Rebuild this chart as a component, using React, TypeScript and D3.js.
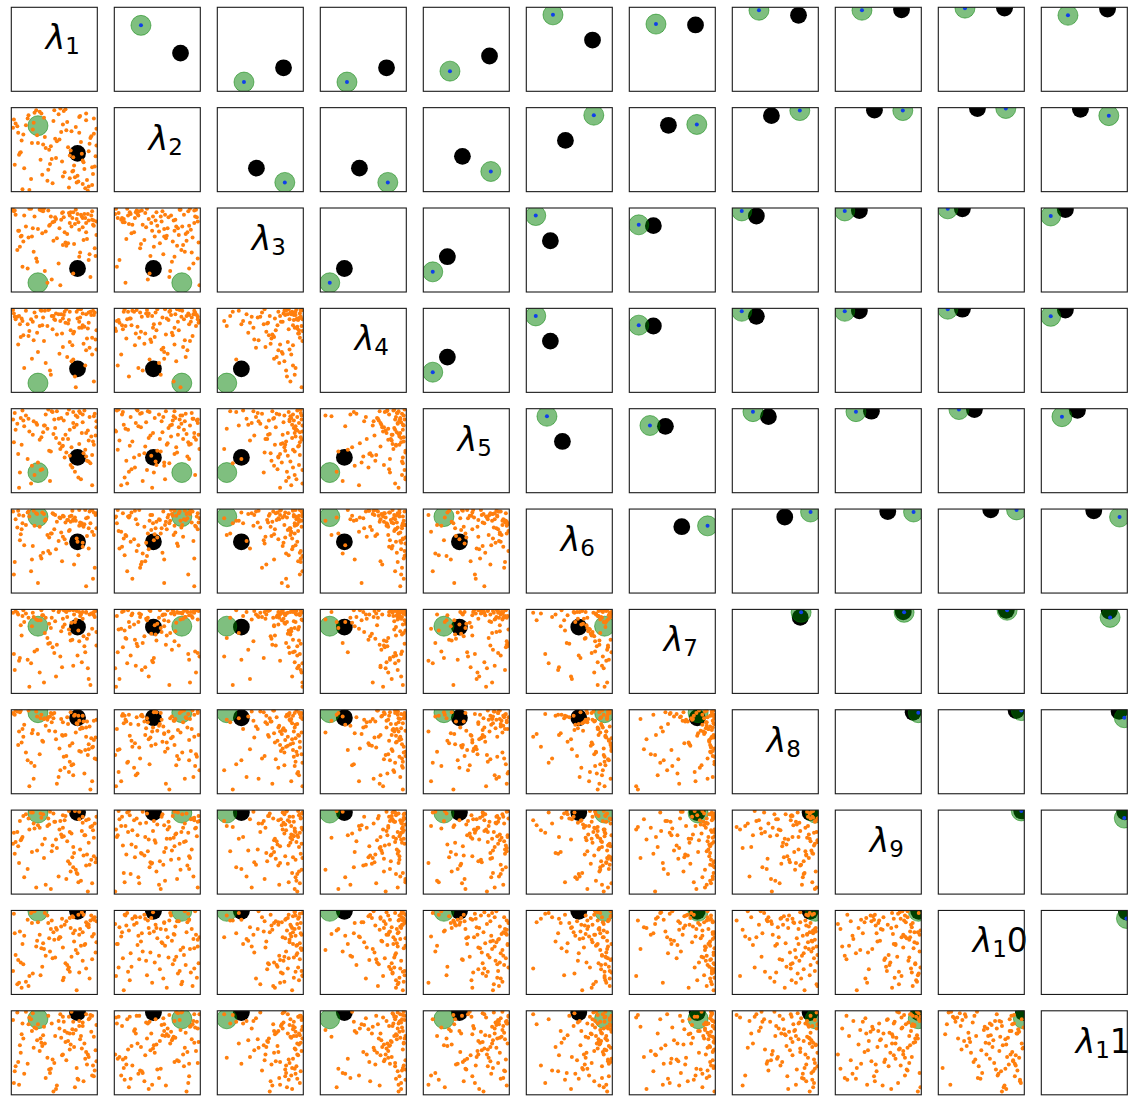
import React from 'react';
import * as d3 from 'd3';

// Diagonal labels: [base, subscript, trailing]
const LABELS: [string, string, string][] = [
  ['λ', '1', ''], ['λ', '2', ''], ['λ', '3', ''], ['λ', '4', ''], ['λ', '5', ''],
  ['λ', '6', ''], ['λ', '7', ''], ['λ', '8', ''], ['λ', '9', ''], ['λ', '1', '0'], ['λ', '1', '1'],
];

// true parameter values (green circles) in axis units
const TRUE_VALUES = [0.31, 0.785, 0.11, 0.11, 0.24, 0.91, 0.80, 0.965, 0.965, 0.99, 0.905];
// estimates (black circles)
const ESTIMATES = [0.77, 0.455, 0.28, 0.28, 0.42, 0.61, 0.79, 0.905, 0.97, 0.99, 0.98];

// posterior samples per parameter
const S1 = [0.05,0.62,0.91,0.33,0.78,0.14,0.47,0.86,0.25,0.69,0.97,0.38,0.12,0.74,0.55,0.82,0.08,0.43,0.66,0.94,0.29,0.59,0.17,0.88,0.51,0.72,0.03,0.36,0.99,0.64,0.21,0.80,0.45,0.93,0.11,0.57,0.76,0.31,0.85,0.49,0.68,0.02,0.90,0.40,0.27,0.73,0.60,0.96,0.19,0.83,0.53,0.35,0.71,0.07,0.89,0.44,0.65,0.23,0.98,0.58,0.79,0.15,0.92,0.48,0.37,0.84,0.61,0.10,0.75,0.95,0.30,0.67,0.87,0.52,0.20,0.81,0.42,0.70,0.04,0.63,0.90,0.26,0.77,0.56,0.34,0.99,0.13,0.46,0.87,0.72,0.60,0.09,0.83,0.39,0.94,0.50,0.24,0.68,0.79,0.96];
const S2 = [0.81,0.23,0.57,0.95,0.12,0.68,0.39,0.04,0.74,0.49,0.30,0.88,0.61,0.17,0.92,0.45,0.70,0.26,0.53,0.08,0.97,0.36,0.79,0.14,0.63,0.41,0.86,0.20,0.55,0.73,0.02,0.90,0.33,0.66,0.47,0.99,0.11,0.58,0.27,0.84,0.43,0.76,0.06,0.52,0.94,0.31,0.18,0.69,0.87,0.37,0.60,0.93,0.24,0.78,0.01,0.50,0.83,0.15,0.42,0.71,0.89,0.28,0.64,0.10,0.56,0.35,0.96,0.46,0.77,0.21,0.67,0.05,0.85,0.40,0.91,0.59,0.13,0.72,0.32,0.98,0.48,0.82,0.19,0.62,0.38,0.75,0.03,0.54,0.93,0.25,0.80,0.44,0.09,0.65,0.29,0.97,0.58,0.16,0.70,0.87];
const S3 = [0.92,0.71,0.45,0.98,0.83,0.60,0.15,0.88,0.76,0.95,0.52,0.99,0.67,0.81,0.34,0.90,0.73,0.97,0.58,0.86,0.40,0.94,0.78,0.63,0.89,0.22,0.96,0.70,0.84,0.55,0.99,0.47,0.80,0.91,0.66,0.08,0.87,0.75,0.93,0.61,0.82,0.98,0.38,0.72,0.90,0.57,0.95,0.85,0.28,0.77,0.64,0.97,0.88,0.50,0.93,0.79,0.69,0.99,0.43,0.86,0.74,0.91,0.18,0.83,0.96,0.62,0.89,0.54,0.98,0.80,0.36,0.94,0.71,0.87,0.65,0.92,0.11,0.78,0.97,0.59,0.85,0.48,0.93,0.76,0.99,0.68,0.30,0.90,0.82,0.95,0.56,0.73,0.88,0.25,0.96,0.84,0.66,0.91,0.42,0.79];
const S4 = [0.87,0.96,0.53,0.79,0.99,0.68,0.91,0.32,0.84,0.74,0.95,0.61,0.88,0.19,0.93,0.77,0.57,0.98,0.82,0.45,0.90,0.70,0.97,0.64,0.86,0.39,0.94,0.80,0.51,0.99,0.73,0.89,0.26,0.92,0.66,0.85,0.96,0.48,0.78,0.91,0.60,0.98,0.83,0.35,0.95,0.72,0.88,0.13,0.81,0.94,0.69,0.97,0.56,0.90,0.76,0.99,0.42,0.87,0.63,0.93,0.84,0.29,0.96,0.75,0.89,0.58,0.92,0.81,0.06,0.97,0.71,0.86,0.50,0.94,0.67,0.99,0.79,0.37,0.90,0.83,0.95,0.62,0.88,0.46,0.98,0.74,0.85,0.21,0.93,0.70,0.54,0.91,0.80,0.97,0.65,0.87,0.40,0.96,0.77,0.92];
const S5 = [0.75,0.42,0.90,0.63,0.18,0.86,0.97,0.51,0.69,0.33,0.94,0.80,0.57,0.25,0.88,0.71,0.46,0.99,0.64,0.09,0.83,0.55,0.92,0.38,0.77,0.96,0.60,0.28,0.85,0.48,0.73,0.95,0.14,0.67,0.89,0.52,0.81,0.36,0.98,0.70,0.44,0.87,0.62,0.93,0.21,0.78,0.56,0.91,0.40,0.84,0.97,0.66,0.30,0.82,0.74,0.50,0.94,0.11,0.68,0.89,0.58,0.79,0.35,0.96,0.72,0.47,0.86,0.24,0.92,0.61,0.81,0.99,0.43,0.65,0.88,0.16,0.76,0.54,0.95,0.69,0.37,0.85,0.90,0.59,0.27,0.78,0.98,0.49,0.71,0.83,0.64,0.06,0.93,0.80,0.45,0.87,0.32,0.75,0.97,0.57];
const S6 = [0.88,0.64,0.97,0.79,0.45,0.92,0.71,0.99,0.56,0.85,0.30,0.94,0.76,0.90,0.62,0.83,0.98,0.50,0.87,0.73,0.95,0.38,0.81,0.68,0.93,0.86,0.22,0.96,0.77,0.59,0.91,0.84,0.47,0.99,0.70,0.89,0.65,0.12,0.82,0.94,0.75,0.97,0.53,0.88,0.80,0.34,0.92,0.69,0.96,0.60,0.85,0.41,0.98,0.78,0.90,0.66,0.87,0.26,0.93,0.72,0.99,0.57,0.83,0.95,0.48,0.79,0.91,0.63,0.86,0.17,0.94,0.74,0.89,0.52,0.97,0.81,0.69,0.92,0.37,0.84,0.77,0.98,0.61,0.90,0.44,0.95,0.83,0.71,0.08,0.88,0.67,0.93,0.55,0.86,0.99,0.76,0.40,0.91,0.80,0.96];
const S7 = [0.98,0.82,0.94,0.25,0.75,0.99,0.90,0.49,0.96,0.63,0.91,0.13,0.69,0.85,0.97,0.37,0.94,0.59,0.99,0.77,0.88,0.31,0.95,0.65,0.86,0.99,0.47,0.93,0.73,0.97,0.08,0.92,0.60,0.95,0.81,0.44,0.98,0.87,0.56,0.99,0.71,0.96,0.17,0.90,0.50,0.94,0.79,0.97,0.40,0.89,0.58,0.99,0.64,0.96,0.30,0.83,0.91,0.36,0.98,0.74,0.97,0.85,0.10,0.55,0.93,0.68,0.99,0.42,0.88,0.95,0.52,0.76,0.97,0.20,0.90,0.94,0.66,0.84,0.28,0.98,0.70,0.91,0.45,0.99,0.87,0.57,0.92,0.78,0.96,0.33,0.89,0.39,0.97,0.72,0.95,0.48,0.80,0.99,0.62,0.93];
const S8 = [0.99,0.31,0.80,0.47,0.93,0.68,0.85,0.52,0.76,0.97,0.42,0.89,0.61,0.94,0.20,0.79,0.58,0.91,0.83,0.15,0.98,0.70,0.49,0.86,0.74,0.35,0.95,0.63,0.88,0.45,0.09,0.77,0.92,0.66,0.99,0.28,0.84,0.71,0.24,0.90,0.57,0.96,0.53,0.81,0.33,0.93,0.69,0.87,0.40,0.78,0.12,0.94,0.60,0.98,0.46,0.75,0.91,0.37,0.67,0.89,0.51,0.82,0.05,0.95,0.62,0.86,0.44,0.97,0.73,0.56,0.92,0.26,0.79,0.65,0.99,0.50,0.88,0.34,0.94,0.70,0.59,0.18,0.83,0.54,0.90,0.41,0.77,0.96,0.68,0.22,0.85,0.74,0.93,0.90,0.55,0.96,0.72,0.38,0.87,0.64];
const S9 = [0.62,0.88,0.35,0.79,0.14,0.93,0.51,0.70,0.97,0.27,0.84,0.43,0.66,0.99,0.21,0.75,0.57,0.90,0.39,0.81,0.08,0.68,0.95,0.47,0.86,0.32,0.73,0.59,0.92,0.18,0.77,0.53,0.98,0.41,0.64,0.87,0.25,0.82,0.70,0.96,0.36,0.60,0.89,0.11,0.78,0.49,0.94,0.67,0.30,0.85,0.55,0.91,0.44,0.74,0.03,0.83,0.63,0.97,0.38,0.71,0.89,0.20,0.80,0.58,0.95,0.46,0.69,0.87,0.29,0.76,0.52,0.99,0.34,0.65,0.90,0.16,0.81,0.72,0.48,0.93,0.61,0.84,0.24,0.77,0.96,0.42,0.68,0.06,0.88,0.56,0.79,0.37,0.92,0.66,0.13,0.86,0.50,0.74,0.98,0.45];
const S10 = [0.47,0.83,0.19,0.71,0.95,0.36,0.88,0.60,0.25,0.79,0.92,0.54,0.08,0.76,0.66,0.98,0.41,0.85,0.30,0.69,0.57,0.90,0.15,0.82,0.44,0.73,0.96,0.33,0.62,0.87,0.22,0.78,0.51,0.94,0.38,0.68,0.05,0.86,0.59,0.74,0.91,0.28,0.80,0.46,0.99,0.63,0.17,0.72,0.89,0.40,0.77,0.55,0.93,0.12,0.84,0.67,0.35,0.97,0.50,0.81,0.26,0.70,0.88,0.43,0.61,0.95,0.20,0.75,0.53,0.90,0.64,0.32,0.86,0.79,0.10,0.58,0.94,0.45,0.73,0.37,0.83,0.99,0.49,0.68,0.23,0.87,0.60,0.78,0.31,0.92,0.56,0.14,0.74,0.97,0.42,0.65,0.85,0.27,0.71,0.89];
const S11 = [0.34,0.76,0.91,0.52,0.18,0.67,0.85,0.43,0.97,0.60,0.29,0.81,0.72,0.09,0.88,0.55,0.39,0.94,0.64,0.23,0.79,0.47,0.99,0.36,0.70,0.87,0.14,0.58,0.83,0.41,0.92,0.66,0.26,0.75,0.50,0.96,0.32,0.84,0.61,0.04,0.73,0.89,0.45,0.20,0.80,0.57,0.93,0.69,0.37,0.86,0.11,0.62,0.78,0.98,0.48,0.30,0.74,0.90,0.53,0.68,0.82,0.25,0.95,0.42,0.71,0.16,0.87,0.59,0.77,0.35,0.65,0.93,0.51,0.07,0.84,0.70,0.44,0.99,0.28,0.63,0.90,0.56,0.19,0.79,0.67,0.40,0.85,0.31,0.96,0.73,0.48,0.12,0.82,0.61,0.94,0.38,0.76,0.54,0.88,0.22];

const SAMPLES = [S1, S2, S3, S4, S5, S6, S7, S8, S9, S10, S11];

const W = 1137;
const H = 1105;
const LEFT = 11.3;
const TOP = 7.3;
const COL_STEP = 103;
const ROW_STEP = 100.35;
const PW = 86;
const PH = 84;

export default function App() {
  const n = SAMPLES.length;
  const panels: React.ReactNode[] = [];
  const defs: React.ReactNode[] = [];

  for (let i = 0; i < n; i++) {
    for (let j = 0; j < n; j++) {
      const x0 = LEFT + j * COL_STEP;
      const y0 = TOP + i * ROW_STEP;
      const xs = d3.scaleLinear().domain([0, 1]).range([x0, x0 + PW]);
      const ys = d3.scaleLinear().domain([0, 1]).range([y0 + PH, y0]);
      const key = `p${i}_${j}`;
      const frame = (
        <rect key={key + 'f'} x={x0} y={y0} width={PW} height={PH} fill="none" stroke="#1a1a1a" strokeWidth={1.1} />
      );
      if (i === j) {
        const [base, sub, trail] = LABELS[i];
        panels.push(
          <g key={key}>
            <rect x={x0} y={y0} width={PW} height={PH} fill="white" />
            <text x={x0 + 0.4 * PW} y={y0 + 42} fontFamily="DejaVu Sans" fontSize={33} fill="black">
              <tspan fontStyle="italic">{base}</tspan>
              <tspan fontSize={23} dy={5}>{sub}</tspan>
              {trail ? <tspan fontSize={33} dy={-5}>{trail}</tspan> : null}
            </text>
            {frame}
          </g>
        );
        continue;
      }
      const xd = Math.min(i, j);
      const yd = Math.max(i, j);
      const clipId = `clip${i}_${j}`;
      defs.push(
        <clipPath id={clipId} key={clipId}>
          <rect x={x0} y={y0} width={PW} height={PH} />
        </clipPath>
      );
      const lower = i > j;
      const xsArr = SAMPLES[xd];
      const ysArr = SAMPLES[yd];
      panels.push(
        <g key={key}>
          <rect x={x0} y={y0} width={PW} height={PH} fill="white" />
          <g clipPath={`url(#${clipId})`}>
            <circle cx={xs(ESTIMATES[xd])} cy={ys(ESTIMATES[yd])} r={8.4} fill="black" />
            <circle
              cx={xs(TRUE_VALUES[xd])}
              cy={ys(TRUE_VALUES[yd])}
              r={10}
              fill="green"
              fillOpacity={0.5}
              stroke="green"
              strokeOpacity={0.5}
              strokeWidth={1}
            />
            {lower
              ? xsArr.map((v, k) => (
                  <circle key={k} cx={xs(v)} cy={ys(ysArr[k])} r={2} fill="#ff7f0e" />
                ))
              : <circle cx={xs(TRUE_VALUES[xd])} cy={ys(TRUE_VALUES[yd])} r={2} fill="#1040e8" />}
          </g>
          {frame}
        </g>
      );
    }
  }

  return (
    <svg
      width={W}
      height={H}
      style={{ position: 'absolute', left: 0, top: 0, background: 'white' }}
      xmlns="http://www.w3.org/2000/svg"
    >
      <defs>{defs}</defs>
      <rect x={0} y={0} width={W} height={H} fill="white" />
      {panels}
    </svg>
  );
}
